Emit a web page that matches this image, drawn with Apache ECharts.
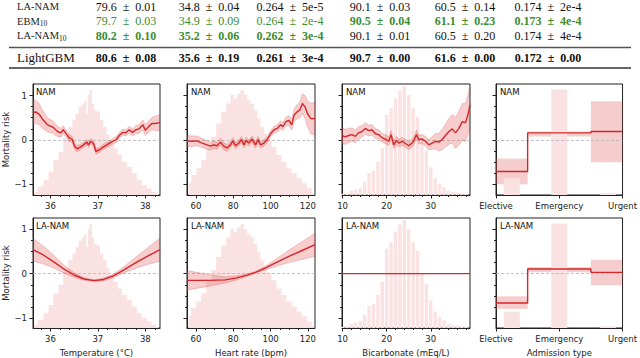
<!DOCTYPE html>
<html>
<head>
<meta charset="utf-8">
<script src="https://cdn.jsdelivr.net/npm/echarts@6/dist/echarts.min.js"></script>
<style>
html, body { margin: 0; padding: 0; background: #fff; }
#main { width: 640px; height: 358px; }
</style>
</head>
<body>
<div id="main"></div>
<script>
// ---- table values ----
var tableLabels = ['LA-NAM', 'EBM10', 'LA-NAM10', 'LightGBM'];
var laNamRow = ['79.6 ± 0.01', '34.8 ± 0.04', '0.264 ± 5e-5', '90.1 ± 0.03', '60.5 ± 0.14', '0.174 ± 2e-4'];
var ebmRow = ['79.7 ± 0.03', '34.9 ± 0.09', '0.264 ± 2e-4', '90.5 ± 0.04', '61.1 ± 0.23', '0.173 ± 4e-4'];
var laNam10Row = ['80.2 ± 0.10', '35.2 ± 0.06', '0.262 ± 3e-4', '90.1 ± 0.01', '60.5 ± 0.20', '0.174 ± 4e-4'];
var lightgbmRow = ['80.6 ± 0.08', '35.6 ± 0.19', '0.261 ± 3e-4', '90.7 ± 0.00', '61.6 ± 0.00', '0.172 ± 0.00'];

// ---- temperature ----
var tempNamX = [35.63, 35.70, 35.77, 35.84, 35.94, 36.05, 36.15, 36.22, 36.27, 36.32, 36.39, 36.46, 36.51, 36.56, 36.63, 36.70, 36.77, 36.80, 36.85, 36.91, 36.96, 37.04, 37.11, 37.19, 37.28, 37.39, 37.45, 37.52, 37.59, 37.66, 37.73, 37.80, 37.87, 37.95, 38.00, 38.07, 38.14, 38.21, 38.31];
var tempNam = [0.62, 0.63, 0.57, 0.46, 0.34, 0.29, 0.19, 0.16, 0.23, 0.16, 0.05, 0.01, -0.14, -0.20, -0.16, -0.11, -0.05, -0.11, -0.03, -0.08, -0.26, -0.22, -0.16, -0.11, -0.05, 0.01, 0.10, 0.17, 0.16, 0.23, 0.17, 0.23, 0.25, 0.34, 0.22, 0.30, 0.37, 0.37, 0.39];
var tempNamErr = [0.27, 0.26, 0.24, 0.2, 0.16, 0.14, 0.12, 0.1, 0.09, 0.08, 0.08, 0.07, 0.07, 0.07, 0.06, 0.06, 0.06, 0.06, 0.06, 0.06, 0.06, 0.06, 0.06, 0.06, 0.06, 0.07, 0.07, 0.07, 0.07, 0.08, 0.08, 0.09, 0.1, 0.11, 0.12, 0.13, 0.14, 0.16, 0.18];
var tempLaX = [35.63, 35.85, 36.08, 36.29, 36.5, 36.71, 36.92, 37.12, 37.33, 37.54, 37.82, 38.06, 38.31];
var tempLa = [0.54, 0.42, 0.26, 0.10, -0.03, -0.12, -0.157, -0.13, -0.05, 0.08, 0.26, 0.40, 0.54];
var tempLaErr = [0.26, 0.2, 0.14, 0.09, 0.05, 0.03, 0.02, 0.03, 0.04, 0.07, 0.13, 0.19, 0.26];
var tempHistX = [35.66, 35.80, 35.91, 36.01, 36.12, 36.22, 36.32, 36.43, 36.50, 36.56, 36.63, 36.70, 36.74, 36.77, 36.80, 36.85, 36.90, 36.94, 37.01, 37.08, 37.15, 37.22, 37.28, 37.39, 37.45, 37.56, 37.66, 37.77, 37.87, 37.98, 38.08, 38.18, 38.28];
var tempHist = [0.03, 0.075, 0.135, 0.21, 0.315, 0.39, 0.51, 0.615, 0.675, 0.735, 0.795, 0.825, 0.855, 0.735, 0.9, 0.946, 0.825, 0.766, 0.75, 0.675, 0.615, 0.54, 0.48, 0.42, 0.36, 0.3, 0.255, 0.195, 0.135, 0.09, 0.06, 0.03, 0.01];

// ---- heart rate ----
var hrNamX = [55.2, 57.9, 60.6, 63.3, 65.9, 67.7, 69.5, 71.3, 73.1, 74.9, 76.7, 78.5, 79.7, 81.2, 83.0, 84.4, 85.7, 86.9, 88.3, 90.1, 91.9, 93.3, 94.6, 96.4, 98.2, 100.0, 101.8, 103.6, 105.4, 106.6, 108.1, 109.9, 111.3, 112.6, 114.4, 115.6, 117.1, 118.5, 119.8, 121.6, 123.8];
var hrNam = [-0.02, -0.03, -0.02, -0.07, -0.11, -0.14, -0.11, -0.13, -0.05, -0.14, -0.18, -0.11, -0.02, -0.13, -0.07, 0.01, -0.11, -0.01, -0.07, 0.02, -0.11, 0.01, -0.11, -0.07, 0.01, 0.14, 0.23, 0.26, 0.34, 0.30, 0.41, 0.44, 0.34, 0.56, 0.64, 0.67, 0.82, 0.74, 0.59, 0.48, 0.48];
var hrNamErr = [0.12, 0.12, 0.11, 0.1, 0.1, 0.09, 0.09, 0.08, 0.08, 0.08, 0.08, 0.07, 0.07, 0.07, 0.07, 0.07, 0.07, 0.07, 0.07, 0.07, 0.07, 0.07, 0.07, 0.07, 0.07, 0.07, 0.08, 0.08, 0.09, 0.09, 0.1, 0.11, 0.12, 0.14, 0.16, 0.18, 0.22, 0.26, 0.3, 0.34, 0.37];
var hrLaX = [55.2, 66.8, 75.8, 81.2, 86.5, 91.9, 97.3, 102.6, 109.8, 116.9, 123.8];
var hrLa = [-0.15, -0.15, -0.14, -0.1, -0.045, 0.03, 0.13, 0.24, 0.39, 0.52, 0.65];
var hrLaErr = [0.22, 0.13, 0.07, 0.05, 0.03, 0.02, 0.04, 0.08, 0.14, 0.2, 0.26];
var hrHistX = [56.1, 58.8, 61.5, 64.2, 66.8, 69.5, 72.2, 74.9, 77.6, 79.4, 81.2, 83.0, 84.8, 86.6, 88.3, 90.1, 91.9, 93.7, 95.5, 97.3, 99.1, 101.8, 104.5, 107.2, 109.9, 112.6, 115.3, 118.0, 120.7, 123.4];
var hrHist = [0.105, 0.18, 0.24, 0.315, 0.42, 0.525, 0.645, 0.75, 0.825, 0.9, 0.87, 0.915, 0.946, 0.9, 0.855, 0.825, 0.765, 0.69, 0.615, 0.555, 0.495, 0.435, 0.36, 0.3, 0.24, 0.195, 0.15, 0.105, 0.06, 0.02];

// ---- bicarbonate ----
var bicNamX = [9.86, 10.61, 11.37, 12.13, 12.89, 13.64, 14.4, 15.16, 15.92, 16.67, 17.43, 18.19, 18.95, 19.7, 20.46, 20.99, 21.6, 22.2, 22.73, 23.49, 24.25, 25.0, 25.76, 26.29, 26.75, 27.28, 28.04, 28.8, 29.55, 30.31, 31.07, 31.83, 32.58, 33.34, 34.1, 34.86, 35.61, 36.37, 37.13, 37.89, 38.42, 38.9];
var bicNam = [0.1, 0.07, 0.1, 0.12, 0.08, 0.16, 0.19, 0.26, 0.21, 0.23, 0.14, 0.12, 0.05, 0.02, -0.03, 0.12, -0.11, -0.01, -0.07, -0.03, -0.08, -0.13, -0.07, 0.01, 0.12, 0.01, 0.02, -0.03, -0.11, -0.07, -0.03, -0.05, 0.01, 0.1, 0.19, 0.25, 0.16, 0.26, 0.41, 0.39, 0.56, 0.79];
var bicNamErr = [0.18, 0.17, 0.16, 0.15, 0.14, 0.14, 0.13, 0.13, 0.12, 0.12, 0.11, 0.11, 0.1, 0.1, 0.1, 0.09, 0.09, 0.09, 0.09, 0.09, 0.09, 0.09, 0.09, 0.09, 0.1, 0.1, 0.1, 0.11, 0.12, 0.14, 0.17, 0.2, 0.23, 0.26, 0.29, 0.32, 0.35, 0.38, 0.41, 0.43, 0.45, 0.47];
var bicLaX = [9.86, 38.9];
var bicLa = [0, 0];
var bicHistX = [10, 11, 12, 13, 14, 15, 16, 17, 18, 19, 20, 21, 22, 23, 24, 25, 26, 27, 28, 29, 30, 31, 32, 33, 34, 35, 36, 37, 38];
var bicHist = [0.01, 0.02, 0.04, 0.05, 0.06, 0.12, 0.2, 0.22, 0.3, 0.42, 0.72, 0.78, 0.87, 0.94, 0.98, 0.9, 0.78, 0.7, 0.5, 0.4, 0.25, 0.15, 0.1, 0.07, 0.04, 0.03, 0.02, 0.015, 0.01];

// ---- admission type ----
var admCats = ['Elective', 'Emergency', 'Urgent'];
var admEdges = [0, 0.5, 1.5, 2];
var admNam = [-0.71, 0.16, 0.19];
var admNamLo = [-1.0, 0.08, -0.5];
var admNamHi = [-0.42, 0.19, 0.87];
var admLa = [-0.66, 0.105, 0.03];
var admLaLo = [-0.79, 0.03, -0.26];
var admLaHi = [-0.51, 0.15, 0.31];
var admHistX = [0.25, 1.0, 1.77];
var admHist = [0.15, 0.95, 0.016];

// ---- ticks ----
var tempTicks = [36, 37, 38];
var hrTicks = [60, 80, 100, 120];
var bicTicks = [10, 20, 30];
var admTicks = [0, 1, 2];
var riskTicks = [-1, 0, 1];

function steps(a, b, s, skip) {
    var out = [];
    for (var v = a; v <= b + 1e-9; v += s) {
        var r = Math.round(v * 100) / 100;
        if (skip.indexOf(r) < 0) out.push(r);
    }
    return out;
}
function zip(xs, ys) {
    return xs.map(function (x, i) { return [x, ys[i]]; });
}

var lineColor = '#d62728';
var bandColor = 'rgba(226, 74, 74, 0.28)';
var bandEdge = 'rgba(214, 60, 60, 0.35)';
var histColor = '#fbe2e2';
var boxColor = 'rgba(226, 90, 90, 0.3)';
var axisColor = '#222';
var sans = 'DejaVu Sans';
var serif = 'Liberation Serif';

var colLeft = [32, 187, 342, 496];
var plotW = 128;
var rowTop = [84, 218];
var rowH = [111, 110];
var yRange = [[-1.24, 1.26], [-1.22, 1.25]];

var xCfg = [
    { min: 35.633, max: 38.31, major: tempTicks, minor: steps(35.8, 38.2, 0.2, tempTicks), name: 'Temperature (°C)' },
    { min: 55.2, max: 123.8, major: hrTicks, minor: steps(60, 120, 5, hrTicks), name: 'Heart rate (bpm)' },
    { min: 9.86, max: 38.9, major: bicTicks, minor: steps(12, 38, 2, bicTicks), name: 'Bicarbonate (mEq/L)' },
    { min: 0, max: 2, major: admTicks, minor: [], name: 'Admission type', cats: admCats }
];

var grids = [], xAxes = [], yAxes = [], series = [], graphics = [];

function addPanel(row, col, label, curve, hist, boxes) {
    var g = grids.length;
    var ax = xCfg[col];
    grids.push({ left: colLeft[col], top: rowTop[row], width: plotW, height: rowH[row],
        show: true, borderColor: axisColor, borderWidth: 1, backgroundColor: 'transparent' });

    var xa = xAxes.length;
    xAxes.push({
        type: 'value', gridIndex: g, position: 'bottom', min: ax.min, max: ax.max,
        splitLine: { show: false },
        axisLine: { show: true, onZero: false, lineStyle: { color: axisColor, width: 1 } },
        axisTick: { show: true, length: 3.5, customValues: ax.major, lineStyle: { color: axisColor } },
        axisLabel: { show: true, customValues: ax.major, margin: 6, color: axisColor, fontSize: 8.5, fontFamily: sans,
            formatter: function (v) { return ax.cats ? ax.cats[Math.round(v)] : String(v); } },
        name: row === 1 ? ax.name : '', nameLocation: 'middle', nameGap: 20,
        nameTextStyle: { color: axisColor, fontSize: 8.5, fontFamily: sans }
    });
    xAxes.push({
        type: 'value', gridIndex: g, position: 'bottom', min: ax.min, max: ax.max,
        splitLine: { show: false }, axisLine: { show: false, onZero: false },
        axisTick: { show: ax.minor.length > 0, length: 2, customValues: ax.minor, lineStyle: { color: axisColor } },
        axisLabel: { show: false }
    });

    var ym = yAxes.length;
    yAxes.push({
        type: 'value', gridIndex: g, position: 'left', min: yRange[row][0], max: yRange[row][1],
        splitLine: { show: false },
        axisLine: { show: true, onZero: false, lineStyle: { color: axisColor, width: 1 } },
        axisTick: { show: true, length: 3.5, customValues: riskTicks, lineStyle: { color: axisColor } },
        axisLabel: { show: col === 0, customValues: riskTicks, margin: 6, color: axisColor, fontSize: 8.5, fontFamily: sans,
            formatter: function (v) { return String(v).replace('-', '\u2212'); } },
        name: col === 0 ? 'Mortality risk' : '', nameLocation: 'middle', nameGap: 23, nameRotate: 90,
        nameTextStyle: { color: axisColor, fontSize: 8.5, fontFamily: sans }
    });
    yAxes.push({
        type: 'value', gridIndex: g, position: 'left', min: yRange[row][0], max: yRange[row][1],
        splitLine: { show: false }, axisLine: { show: false, onZero: false },
        axisTick: { show: true, length: 2, customValues: steps(-1, 1, 0.25, riskTicks), lineStyle: { color: axisColor } },
        axisLabel: { show: false }
    });
    var yh = yAxes.length;
    yAxes.push({ type: 'value', gridIndex: g, position: 'right', min: 0, max: 1, show: false, splitLine: { show: false } });

    // background histogram
    if (hist.kind === 'step') {
        series.push({ type: 'line', xAxisIndex: xa, yAxisIndex: yh, step: 'middle', symbol: 'none', silent: true, z: 1,
            lineStyle: { width: 0, opacity: 0 }, areaStyle: { color: histColor, opacity: 1 }, data: zip(hist.x, hist.y) });
    } else {
        series.push({ type: 'bar', xAxisIndex: xa, yAxisIndex: yh, barWidth: hist.width, silent: true, z: 1,
            itemStyle: { color: histColor }, data: zip(hist.x, hist.y) });
    }

    // uncertainty band
    if (curve.err) {
        series.push({
            type: 'custom', xAxisIndex: xa, yAxisIndex: ym, silent: true, clip: true, z: 2,
            data: [[curve.x[0], curve.y[0]]], encode: { x: 0, y: 1 },
            renderItem: function (params, api) {
                var pts = [], i;
                for (i = 0; i < curve.x.length; i++) pts.push(api.coord([curve.x[i], curve.y[i] + curve.err[i]]));
                for (i = curve.x.length - 1; i >= 0; i--) pts.push(api.coord([curve.x[i], curve.y[i] - curve.err[i]]));
                return { type: 'polygon', shape: { points: pts }, style: { fill: bandColor, stroke: bandEdge, lineWidth: 0.7 } };
            }
        });
    }

    var mean = {
        type: 'line', xAxisIndex: xa, yAxisIndex: ym, symbol: 'none', silent: true, z: 3,
        lineStyle: { color: lineColor, width: 1.4 },
        data: zip(curve.x, curve.y),
        markLine: { silent: true, symbol: ['none', 'none'], label: { show: false }, z: 2,
            lineStyle: { color: '#b5b5b5', type: [3, 2], width: 0.8 }, data: [{ yAxis: 0 }] }
    };
    if (curve.step) mean.step = 'end';
    if (boxes) {
        mean.markArea = { silent: true, itemStyle: { color: boxColor },
            data: boxes.lo.map(function (lo, i) {
                return [{ coord: [admEdges[i], lo] }, { coord: [admEdges[i + 1], boxes.hi[i]] }];
            }) };
    }
    series.push(mean);

    graphics.push({ type: 'text', z: 100, style: { text: label, x: colLeft[col] + 4, y: rowTop[row] + 3,
        fontSize: 8.5, fontFamily: sans, fill: '#111' } });
}

function admCurve(vals) {
    return { x: admEdges, y: vals.concat([vals[vals.length - 1]]), step: true };
}

addPanel(0, 0, 'NAM', { x: tempNamX, y: tempNam, err: tempNamErr }, { kind: 'step', x: tempHistX, y: tempHist });
addPanel(0, 1, 'NAM', { x: hrNamX, y: hrNam, err: hrNamErr }, { kind: 'step', x: hrHistX, y: hrHist });
addPanel(0, 2, 'NAM', { x: bicNamX, y: bicNam, err: bicNamErr }, { kind: 'bar', x: bicHistX, y: bicHist, width: 3.4 });
addPanel(0, 3, 'NAM', admCurve(admNam), { kind: 'bar', x: admHistX, y: admHist, width: 16 }, { lo: admNamLo, hi: admNamHi });
addPanel(1, 0, 'LA-NAM', { x: tempLaX, y: tempLa, err: tempLaErr }, { kind: 'step', x: tempHistX, y: tempHist });
addPanel(1, 1, 'LA-NAM', { x: hrLaX, y: hrLa, err: hrLaErr }, { kind: 'step', x: hrHistX, y: hrHist });
addPanel(1, 2, 'LA-NAM', { x: bicLaX, y: bicLa }, { kind: 'bar', x: bicHistX, y: bicHist, width: 3.4 });
addPanel(1, 3, 'LA-NAM', admCurve(admLa), { kind: 'bar', x: admHistX, y: admHist, width: 16 }, { lo: admLaLo, hi: admLaHi });

// ---- table ----
var tableRows = [laNamRow, ebmRow, laNam10Row, lightgbmRow];
var rowY = [6.5, 21, 35.5, 57.5];
var colX = [126, 209, 290, 380, 465, 548];
var green = '#3d8c2f';
var cellStyle = [
    { green: [], bold: [] },
    { green: [0, 1, 2, 3, 4, 5], bold: [3, 4, 5] },
    { green: [0, 1, 2], bold: [0, 1, 2] },
    { green: [], bold: [0, 1, 2, 3, 4, 5] }
];
var labelRich = {
    sc: { fontSize: 10.5, fontFamily: serif, fill: '#222' },
    sub: { fontSize: 7.5, fontFamily: serif, fill: '#222', padding: [5, 0, 0, 0] },
    big: { fontSize: 13, fontFamily: serif, fill: '#111' }
};
var labelText = [
    '{sc|' + tableLabels[0] + '}',
    '{sc|' + tableLabels[1].slice(0, 3) + '}{sub|' + tableLabels[1].slice(3) + '}',
    '{sc|' + tableLabels[2].slice(0, 6) + '}{sub|' + tableLabels[2].slice(6) + '}',
    '{big|' + tableLabels[3] + '}'
];
labelText.forEach(function (t, r) {
    graphics.push({ type: 'text', z: 100, style: { text: t, rich: labelRich, x: 17, y: rowY[r], verticalAlign: 'middle' } });
});
tableRows.forEach(function (vals, r) {
    vals.forEach(function (v, c) {
        var st = cellStyle[r];
        graphics.push({ type: 'text', z: 100, style: {
            text: v.replace(' ± ', '\u2002±\u2002'), x: colX[c], y: rowY[r], align: 'center', verticalAlign: 'middle',
            fontSize: 12, fontFamily: serif,
            fontWeight: st.bold.indexOf(c) >= 0 ? 'bold' : 'normal',
            fill: st.green.indexOf(c) >= 0 ? green : '#111'
        } });
    });
});
graphics.push({ type: 'line', z: 100, shape: { x1: 9, y1: 47.5, x2: 631, y2: 47.5 }, style: { stroke: '#555', lineWidth: 1.4 } });
graphics.push({ type: 'line', z: 100, shape: { x1: 9, y1: 68, x2: 631, y2: 68 }, style: { stroke: '#333', lineWidth: 1.6 } });

var chart = echarts.init(document.getElementById('main'), null, { renderer: 'svg', width: 640, height: 358 });
chart.setOption({
    animation: false,
    backgroundColor: '#fff',
    grid: grids,
    xAxis: xAxes,
    yAxis: yAxes,
    series: series,
    graphic: graphics
});
</script>
</body>
</html>
